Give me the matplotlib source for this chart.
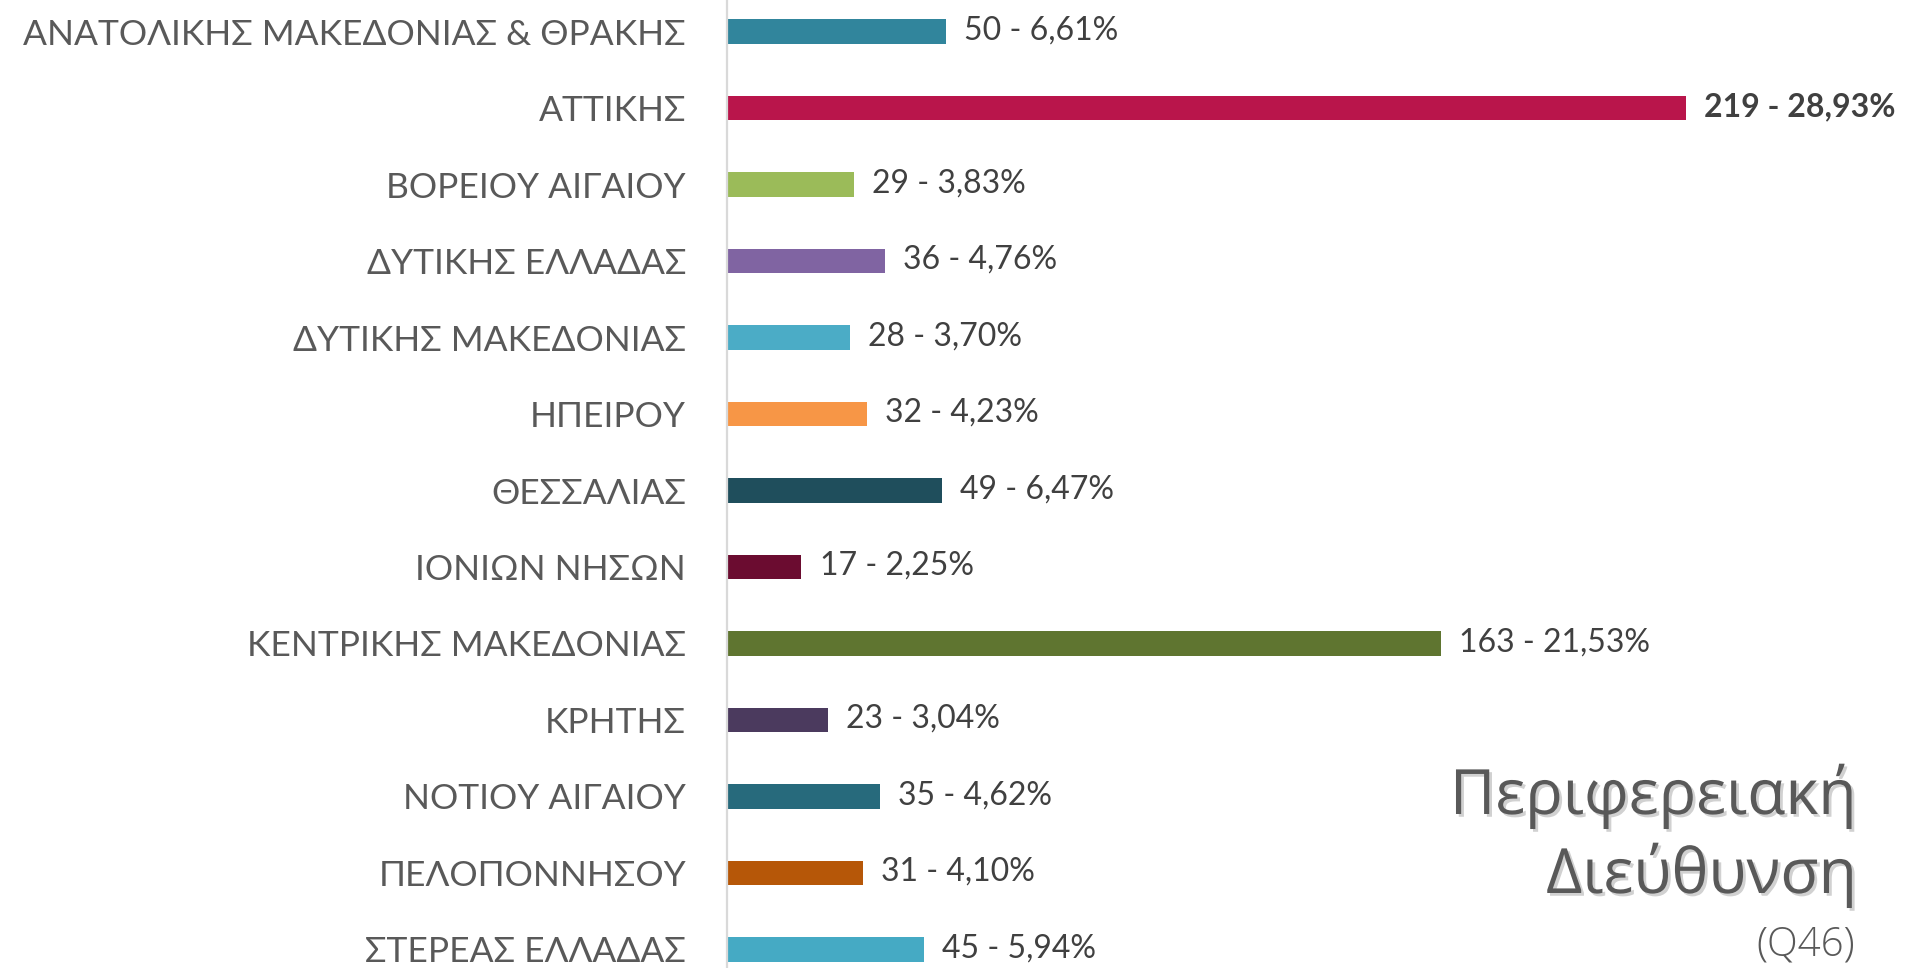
import matplotlib
matplotlib.use("Agg")
import matplotlib.pyplot as plt
import matplotlib.patheffects as pe
from matplotlib import font_manager as fm

categories = [
    "ΑΝΑΤΟΛΙΚΗΣ ΜΑΚΕΔΟΝΙΑΣ & ΘΡΑΚΗΣ",
    "ΑΤΤΙΚΗΣ",
    "ΒΟΡΕΙΟΥ ΑΙΓΑΙΟΥ",
    "ΔΥΤΙΚΗΣ ΕΛΛΑΔΑΣ",
    "ΔΥΤΙΚΗΣ ΜΑΚΕΔΟΝΙΑΣ",
    "ΗΠΕΙΡΟΥ",
    "ΘΕΣΣΑΛΙΑΣ",
    "ΙΟΝΙΩΝ ΝΗΣΩΝ",
    "ΚΕΝΤΡΙΚΗΣ ΜΑΚΕΔΟΝΙΑΣ",
    "ΚΡΗΤΗΣ",
    "ΝΟΤΙΟΥ ΑΙΓΑΙΟΥ",
    "ΠΕΛΟΠΟΝΝΗΣΟΥ",
    "ΣΤΕΡΕΑΣ ΕΛΛΑΔΑΣ",
]
counts = [50, 219, 29, 36, 28, 32, 49, 17, 163, 23, 35, 31, 45]
percents = [6.61, 28.93, 3.83, 4.76, 3.70, 4.23, 6.47, 2.25, 21.53, 3.04, 4.62, 4.10, 5.94]
colors = ["#31859C", "#B9154B", "#9BBB59", "#8064A2", "#4BACC6", "#F79646",
          "#1F4E5C", "#6B0C30", "#5F7530", "#4B3A5E", "#276A7C", "#B65708", "#45AAC4"]
title_lines = ["Περιφερειακή", "Διεύθυνση"]
subtitle = "(Q46)"

names = {f.name for f in fm.fontManager.ttflist}
label_font = "Lato" if "Lato" in names else "Open Sans"
title_font = "Open Sans"

W, H = 1906, 968
fig = plt.figure(figsize=(W / 100, H / 100), dpi=100)
ax = fig.add_axes([727 / W, 0, 1 - 727 / W, 1])

y = list(range(len(categories)))
ax.barh(y, counts, height=0.32, color=colors)
ax.set_xlim(0, 269.2)
ax.set_ylim(12.242, -0.412)

ax.set_yticks(y)
ax.set_yticklabels(categories, fontsize=25.5, color="#595959",
                   family=[label_font, "DejaVu Sans"])
ax.tick_params(axis="y", length=0, pad=29.5)
ax.set_xticks([])
for s in ["top", "right", "bottom"]:
    ax.spines[s].set_visible(False)
ax.spines["left"].set_color("#D9D9D9")
ax.spines["left"].set_linewidth(1.6)

for i, (c, p) in enumerate(zip(counts, percents)):
    txt = f"{c} - {p:.2f}".replace(".", ",") + "%"
    bold = (c == max(counts))
    ax.annotate(txt, xy=(c, i), xytext=(13, 1), textcoords="offset points",
                va="center", ha="left", fontsize=23, color="#404040",
                fontweight="bold" if bold else "normal",
                family=[label_font, "DejaVu Sans"])

shadow = [pe.withSimplePatchShadow(offset=(2, -2), shadow_rgbFace="#000000", alpha=0.18)]
fig.text(1857 / W, 1 - 814 / H, title_lines[0], ha="right", va="baseline",
         fontsize=45, color="#595959", family=[title_font, "DejaVu Sans"],
         fontweight="normal", path_effects=shadow)
fig.text(1857 / W, 1 - 893 / H, title_lines[1], ha="right", va="baseline",
         fontsize=45, color="#595959", family=[title_font, "DejaVu Sans"],
         fontweight="normal", path_effects=shadow)
fig.text(1855 / W, 1 - 956 / H, subtitle, ha="right", va="baseline",
         fontsize=29, color="#595959", family=[title_font, "DejaVu Sans"],
         fontweight="light")

fig.savefig("out.png", dpi=100)
